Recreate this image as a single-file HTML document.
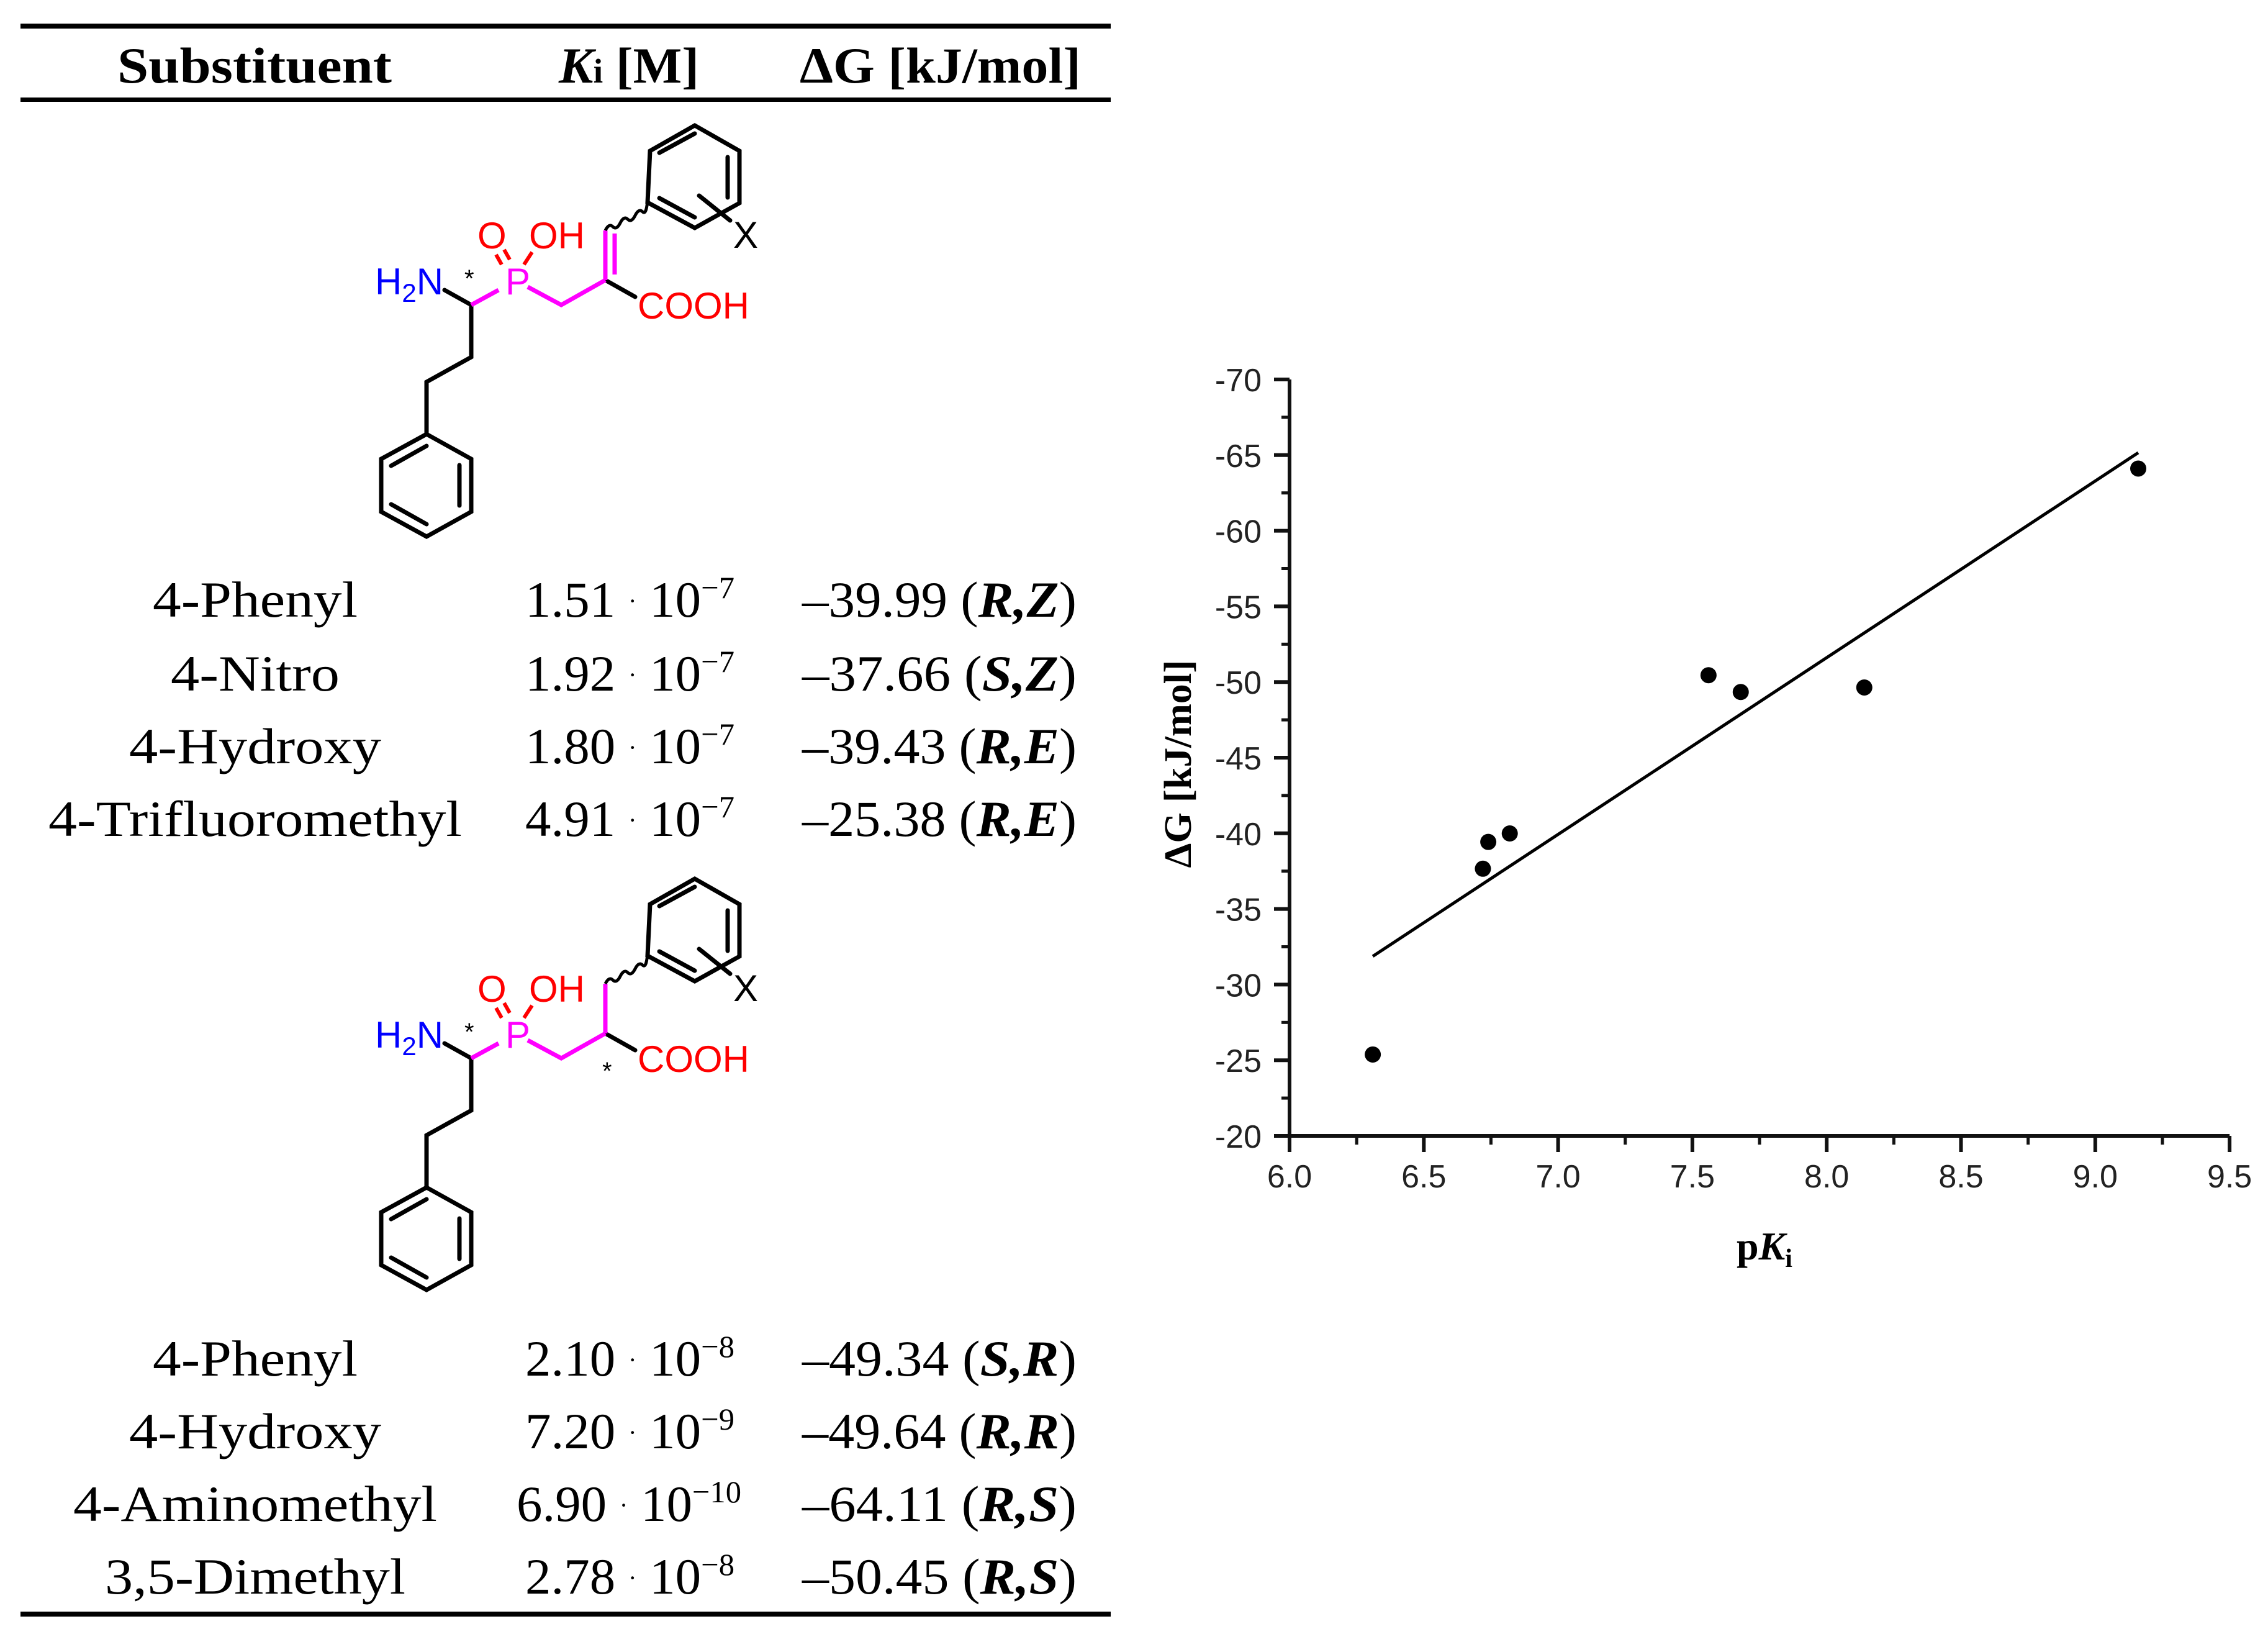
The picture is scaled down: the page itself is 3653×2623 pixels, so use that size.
<!DOCTYPE html>
<html><head><meta charset="utf-8"><style>
html,body{margin:0;padding:0;background:#fff}
svg{display:block}
.t{font-family:"Liberation Serif",serif;font-size:82px;fill:#000}
.s{font-family:"Liberation Sans",sans-serif;font-size:60px}
.tick{font-family:"Liberation Sans",sans-serif;font-size:52px;fill:#222}
</style></head><body>
<svg id="root" width="3653" height="2623" viewBox="0 0 3653 2623" xmlns="http://www.w3.org/2000/svg">
<defs>
<g id="core">
  <g stroke="#000" stroke-width="7" fill="none" stroke-linecap="round">
    <line x1="716" y1="467" x2="759" y2="491"/>
    <polyline points="759,491 759,575 687,615 687,699"/>
    <polygon points="687,699 759,739 759,824 687,864 614,824 614,739"/>
    <line x1="740" y1="749" x2="740" y2="814"/>
    <line x1="687" y1="844" x2="630" y2="812"/>
    <line x1="630" y1="750" x2="687" y2="718"/>
    <line x1="975" y1="451" x2="1023" y2="478"/>
    <polygon points="1043,326 1119,367 1191,327 1191,243 1119,202 1047,243"/>
    <line x1="1172" y1="253" x2="1172" y2="318"/>
    <line x1="1062" y1="319" x2="1119" y2="350"/>
    <line x1="1062" y1="246" x2="1119" y2="215"/>
    <line x1="1126" y1="315" x2="1176" y2="355"/>
  </g>
  <g stroke="#ff00ff" stroke-width="7" fill="none">
    <line x1="759" y1="491" x2="803" y2="467"/>
    <polyline points="850,462 904,491 975,451"/>
  </g>
  <g stroke="#ff0000" stroke-width="6">
    <line x1="808" y1="426" x2="799" y2="410"/>
    <line x1="821" y1="418" x2="812" y2="402"/>
    <line x1="844" y1="426" x2="857" y2="406"/>
  </g>
  <text class="s" x="604" y="474" fill="#0000ff">H<tspan font-size="42" dy="12">2</tspan><tspan dy="-12">N</tspan></text>
  <text class="s" x="814" y="474" fill="#ff00ff">P</text>
  <text class="s" x="769" y="400" fill="#ff0000">O</text>
  <text class="s" x="852" y="400" fill="#ff0000">OH</text>
  <text class="s" x="1027" y="513" fill="#ff0000">COOH</text>
  <text class="s" x="1181" y="399" fill="#000">X</text>
  <text x="748" y="462" font-family="Liberation Sans,sans-serif" font-size="40" fill="#000">*</text>
</g>
</defs>

<!-- table rules -->
<rect x="33" y="38" width="1756" height="8" fill="#000"/>
<rect x="33" y="157" width="1756" height="7" fill="#000"/>
<rect x="33" y="2595" width="1756" height="8" fill="#000"/>

<g>
<text class="t" x="189" y="133" font-weight="bold" textLength="442" lengthAdjust="spacingAndGlyphs">Substituent</text>
<text class="t" x="900" y="133" font-weight="bold" textLength="226" lengthAdjust="spacingAndGlyphs"><tspan font-style="italic">K</tspan><tspan font-size="55">i</tspan> [M]</text>
<text class="t" x="1288" y="133" font-weight="bold" textLength="453" lengthAdjust="spacingAndGlyphs">ΔG [kJ/mol]</text>
</g>

<!-- structure 1 -->
<g>
<use href="#core"/>
<g stroke="#ff00ff" stroke-width="7">
  <line x1="975" y1="451" x2="975" y2="371"/>
  <line x1="990" y1="442" x2="990" y2="376"/>
</g>
<path d="M975,371 q6,-12 12,-6 t12,-6 t12,-6 t12,-6 t12,-6 t8,-19" stroke="#000" stroke-width="5" fill="none"/>
</g>

<!-- structure 2 -->
<g transform="translate(0,1213)">
<use href="#core"/>
<line x1="975" y1="451" x2="975" y2="371" stroke="#ff00ff" stroke-width="7"/>
<path d="M975,371 q6,-12 12,-6 t12,-6 t12,-6 t12,-6 t12,-6 t8,-19" stroke="#000" stroke-width="5" fill="none"/>
<text x="970" y="525" font-family="Liberation Sans,sans-serif" font-size="40" fill="#000">*</text>
</g>

<g id="rows"></g>
<g id="chart"></g>
</svg>
<script>
// ---- table data ----
const subst = ["4-Phenyl","4-Nitro","4-Hydroxy","4-Trifluoromethyl","4-Phenyl","4-Hydroxy","4-Aminomethyl","3,5-Dimethyl"];
const kiMant = ["1.51","1.92","1.80","4.91","2.10","7.20","6.90","2.78"];
const kiExp = ["−7","−7","−7","−7","−8","−9","−10","−8"];
const dGtxt = ["–39.99","–37.66","–39.43","–25.38","–49.34","–49.64","–64.11","–50.45"];
const stereo = [["R","Z"],["S","Z"],["R","E"],["R","E"],["S","R"],["R","R"],["R","S"],["R","S"]];
const substW = [330,272,406,666,330,406,586,484];
// ---- chart data ----
const pKi = [6.82, 6.72, 6.74, 6.31, 7.68, 8.14, 9.16, 7.56];
const dG = [-39.99, -37.66, -39.43, -25.38, -49.34, -49.64, -64.11, -50.45];
const xTicks = ["6.0","6.5","7.0","7.5","8.0","8.5","9.0","9.5"];
const yTicks = ["-70","-65","-60","-55","-50","-45","-40","-35","-30","-25","-20"];

const NS = "http://www.w3.org/2000/svg";
function mk(tag, attrs, parent){const e=document.createElementNS(NS,tag);for(const k in attrs)e.setAttribute(k,attrs[k]);parent.appendChild(e);return e;}

// table rows
const rowsG = document.getElementById('rows');
const baseY = [993,1112,1229,1346,2215,2332,2449,2566];
subst.forEach((s,i)=>{
  const cx = 411;
  const t = mk('text',{class:'t',x:cx-substW[i]/2,y:baseY[i],textLength:substW[i],lengthAdjust:'spacingAndGlyphs'},rowsG);
  
  
  t.textContent = s;
  const wide = kiExp[i].length>2;
  const k = mk('text',{class:'t',x:wide?832:846,y:baseY[i],textLength:wide?362:337,lengthAdjust:'spacingAndGlyphs'},rowsG);
  
  
  k.innerHTML = kiMant[i]+' <tspan font-size="40" dy="-12">·</tspan><tspan dy="12"> 10</tspan><tspan font-size="50" dy="-30">'+kiExp[i]+'</tspan>';
  const d = mk('text',{class:'t',x:1292,y:baseY[i],textLength:442,lengthAdjust:'spacingAndGlyphs'},rowsG);
  
  
  d.innerHTML = dGtxt[i]+' (<tspan font-weight="bold" font-style="italic">'+stereo[i][0]+','+stereo[i][1]+'</tspan>)';
});

// chart
const cg = document.getElementById('chart');
const X0=2077, XPU=432.6, Y0=611, YPU=24.36;
const xs = v => X0 + (v-6)*XPU;
const ys = v => Y0 + (v+70)*YPU;
mk('line',{x1:X0,y1:Y0,x2:X0,y2:ys(-20),stroke:'#111','stroke-width':6},cg);
mk('line',{x1:X0,y1:ys(-20),x2:xs(9.5),y2:ys(-20),stroke:'#111','stroke-width':6},cg);
yTicks.forEach((lab)=>{
  const v=parseFloat(lab), y=ys(v);
  const l=mk('line',{x1:X0-25,y1:y,x2:X0,y2:y,stroke:'#111','stroke-width':6},cg);
  
  
  const t=mk('text',{class:'tick',x:2032,y:y+19,'text-anchor':'end'},cg);
  
  
  t.textContent=lab;
  if(v>-70){const m=ys(v-2.5);const ml=mk('line',{x1:X0-13,y1:m,x2:X0,y2:m,stroke:'#111','stroke-width':5},cg);
    
    }
});
xTicks.forEach((lab)=>{
  const v=parseFloat(lab), x=xs(v), yb=ys(-20);
  const l=mk('line',{x1:x,y1:yb,x2:x,y2:yb+26,stroke:'#111','stroke-width':6},cg);
  
  
  const t=mk('text',{class:'tick',x:x,y:1912,'text-anchor':'middle'},cg);
  
  
  t.textContent=lab;
  if(v<9.5){const m=xs(v+0.25);const ml=mk('line',{x1:m,y1:yb,x2:m,y2:yb+14,stroke:'#111','stroke-width':5},cg);
    
    }
});
// regression line
const n=pKi.length, mx=pKi.reduce((a,b)=>a+b)/n, my=dG.reduce((a,b)=>a+b)/n;
let sxy=0,sxx=0; for(let i=0;i<n;i++){sxy+=(pKi[i]-mx)*(dG[i]-my);sxx+=(pKi[i]-mx)**2;}
const slope=sxy/sxx, icpt=my-slope*mx;
const xmin=Math.min(...pKi), xmax=Math.max(...pKi);
const fl=mk('line',{x1:xs(xmin),y1:ys(icpt+slope*xmin),x2:xs(xmax),y2:ys(icpt+slope*xmax),stroke:'#000','stroke-width':5},cg);


pKi.forEach((p,i)=>{
  const c=mk('circle',{cx:xs(p),cy:ys(dG[i]),r:13,fill:'#000'},cg);
  
  
});
const yt=mk('text',{x:0,y:0,transform:'translate(1918,1230) rotate(-90)','text-anchor':'middle','font-family':'Liberation Serif,serif','font-size':'62','font-weight':'bold',textLength:335,lengthAdjust:'spacingAndGlyphs'},cg);


yt.textContent='ΔG [kJ/mol]';
const xt=mk('text',{x:2797,y:2028,'font-family':'Liberation Serif,serif','font-size':'64','font-weight':'bold'},cg);


xt.innerHTML='p<tspan font-style="italic">K</tspan><tspan font-size="42" dy="12">i</tspan>';
</script>
</body></html>
